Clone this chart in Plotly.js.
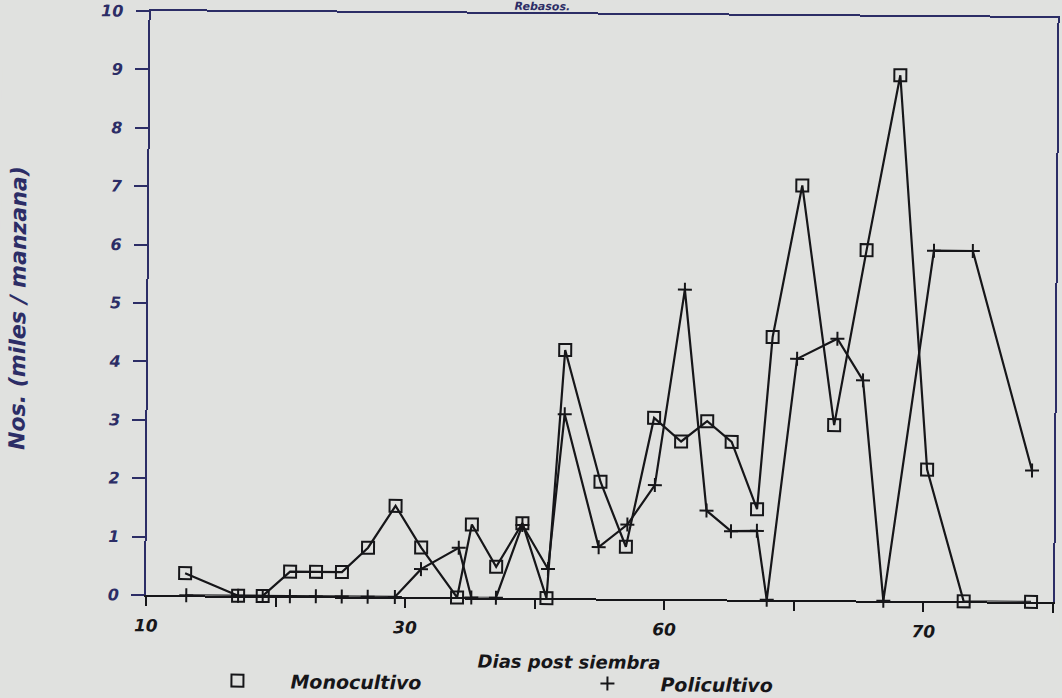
<!DOCTYPE html>
<html>
<head>
<meta charset="utf-8">
<script src="https://cdn.plot.ly/plotly-3.0.1.min.js"></script>
<style>
  html, body { margin: 0; padding: 0; background: #e0e1df; overflow: hidden; }
  #chart { width: 1062px; height: 698px; transform: rotate(0.44deg); transform-origin: 50% 50%; }
</style>
</head>
<body>
<div id="chart"></div>
<script>
// Días post siembra (eje x) y densidad en miles por manzana (eje y)
const monoX = [13.0, 17.1, 19.0, 21.1, 23.1, 25.1, 27.1, 29.2, 31.2, 34.0, 35.1, 37.0, 39.0, 40.9, 42.2,
               45.0, 47.0, 49.1, 51.2, 53.2, 55.1, 57.1, 58.2, 60.4, 63.0, 65.4, 67.9, 70.2, 73.1, 78.3];
const monoY = [0.38, 0, 0, 0.42, 0.42, 0.42, 0.84, 1.56, 0.85, 0, 1.25, 0.53, 1.28, 0, 4.25,
               2.0, 0.89, 3.1, 2.7, 3.05, 2.7, 1.55, 4.5, 7.1, 3.0, 6.0, 9.0, 2.25, 0, 0];

const poliX = [13.1, 17.1, 19.0, 21.1, 23.1, 25.1, 27.1, 29.2, 31.2, 34.1, 35.1, 37.0, 39.0, 41.0, 42.2,
               44.9, 47.1, 49.2, 51.4, 53.2, 55.1, 57.1, 57.9, 60.1, 63.2, 65.2, 66.9, 70.6, 73.6, 78.3];
const poliY = [0, 0, 0, 0, 0, 0, 0, 0, 0.48, 0.85, 0, 0, 1.25, 0.5, 3.15,
               0.88, 1.27, 1.95, 5.3, 1.52, 1.17, 1.18, 0, 4.13, 4.48, 3.77, 0, 6.0, 6.0, 2.25];

const xTickVals = [10, 20, 30, 40, 50, 60, 70, 80];
const xTickText = ['10', '', '30', '', '60', '', '70', ''];
const yTickVals = [0, 1, 2, 3, 4, 5, 6, 7, 8, 9, 10];

const seriesNames = ['Monocultivo', 'Policultivo'];
const xTitle = 'Dias post siembra';
const yTitle = 'Nos. (miles / manzana)';
const topTitle = 'Rebasos.';

const ink = '#161619';
const navy = '#2c2d66';
const bg = '#e0e1df';
const fontBase = { family: 'DejaVu Sans', weight: 'bold', style: 'italic' };

const lineTrace = (x, y, symbol, size) => ({
  x: x, y: y, type: 'scatter', mode: 'lines+markers', showlegend: false, cliponaxis: false,
  line: { color: ink, width: 2.2 },
  marker: { symbol: symbol, size: size, color: ink, line: { color: ink, width: 2 } }
});
const legendTrace = (name, symbol, size) => ({
  x: [null], y: [null], type: 'scatter', mode: 'markers', name: name,
  marker: { symbol: symbol, size: size, color: ink, line: { color: ink, width: 2 } }
});

const data = [
  lineTrace(monoX, monoY, 'square-open', 12),
  lineTrace(poliX, poliY, 'cross-thin-open', 10),
  legendTrace('\u00a0\u00a0\u00a0\u00a0\u00a0' + seriesNames[0], 'square-open', 12),
  legendTrace('\u00a0\u00a0\u00a0\u00a0\u00a0' + seriesNames[1], 'cross-thin-open', 10)
];

const layout = {
  width: 1062, height: 698,
  margin: { l: 148, r: 7, t: 14, b: 100, autoexpand: false },
  paper_bgcolor: bg, plot_bgcolor: bg,
  font: Object.assign({}, fontBase, { size: 14, color: ink }),
  xaxis: {
    range: [10, 80], tickmode: 'array', tickvals: xTickVals, ticktext: xTickText,
    showgrid: false, zeroline: false,
    showline: true, linecolor: ink, linewidth: 2,
    ticks: 'outside', ticklen: 9, tickwidth: 2, tickcolor: ink,
    ticklabelstandoff: 5,
    tickfont: Object.assign({}, fontBase, { size: 17, color: ink }),
    fixedrange: true
  },
  xaxis2: {
    overlaying: 'x', side: 'top', range: [10, 80], showline: true, linecolor: navy, linewidth: 2,
    showticklabels: false, ticks: '', showgrid: false, zeroline: false
  },
  yaxis: {
    range: [0, 10], tickmode: 'array', tickvals: yTickVals,
    showgrid: false, zeroline: false,
    showline: true, linecolor: navy, linewidth: 2,
    ticks: 'outside', ticklen: 13, tickwidth: 2, tickcolor: navy,
    ticklabelstandoff: 9,
    tickfont: Object.assign({}, fontBase, { size: 16, color: navy }),
    fixedrange: true
  },
  yaxis2: {
    overlaying: 'y', side: 'right', range: [0, 10], showline: true, linecolor: navy, linewidth: 2,
    showticklabels: false, ticks: '', showgrid: false, zeroline: false
  },
  showlegend: true,
  legend: {
    orientation: 'h', xref: 'container', yref: 'container',
    x: 220 / 1062, xanchor: 'left', y: (698 - 664) / 698, yanchor: 'top',
    entrywidth: 325, entrywidthmode: 'pixels', bgcolor: 'rgba(0,0,0,0)',
    font: Object.assign({}, fontBase, { size: 19, color: ink })
  },
  annotations: [
    { text: xTitle, xref: 'paper', yref: 'paper', x: (571 - 148) / 907, y: 0, yshift: -63,
      xanchor: 'center', yanchor: 'middle', showarrow: false,
      font: Object.assign({}, fontBase, { size: 18, color: ink }) },
    { text: yTitle, xref: 'paper', yref: 'paper', x: 0, xshift: -130, y: 0.49,
      xanchor: 'center', yanchor: 'middle', textangle: -90, showarrow: false,
      font: Object.assign({}, fontBase, { size: 22, color: navy }) },
    { text: topTitle, xref: 'paper', yref: 'paper', x: (540 - 148) / 907, y: 1, yshift: -1,
      xanchor: 'center', yanchor: 'bottom', showarrow: false,
      font: Object.assign({}, fontBase, { size: 11, color: navy }) }
  ]
};

// dummy traces on the mirrored axes so the top and right frame lines are drawn in navy
data.push({ x: [null], y: [null], xaxis: 'x2', yaxis: 'y2', type: 'scatter', mode: 'markers', showlegend: false, hoverinfo: 'skip' });

Plotly.newPlot('chart', data, layout, { staticPlot: true, displayModeBar: false });
</script>
</body>
</html>
